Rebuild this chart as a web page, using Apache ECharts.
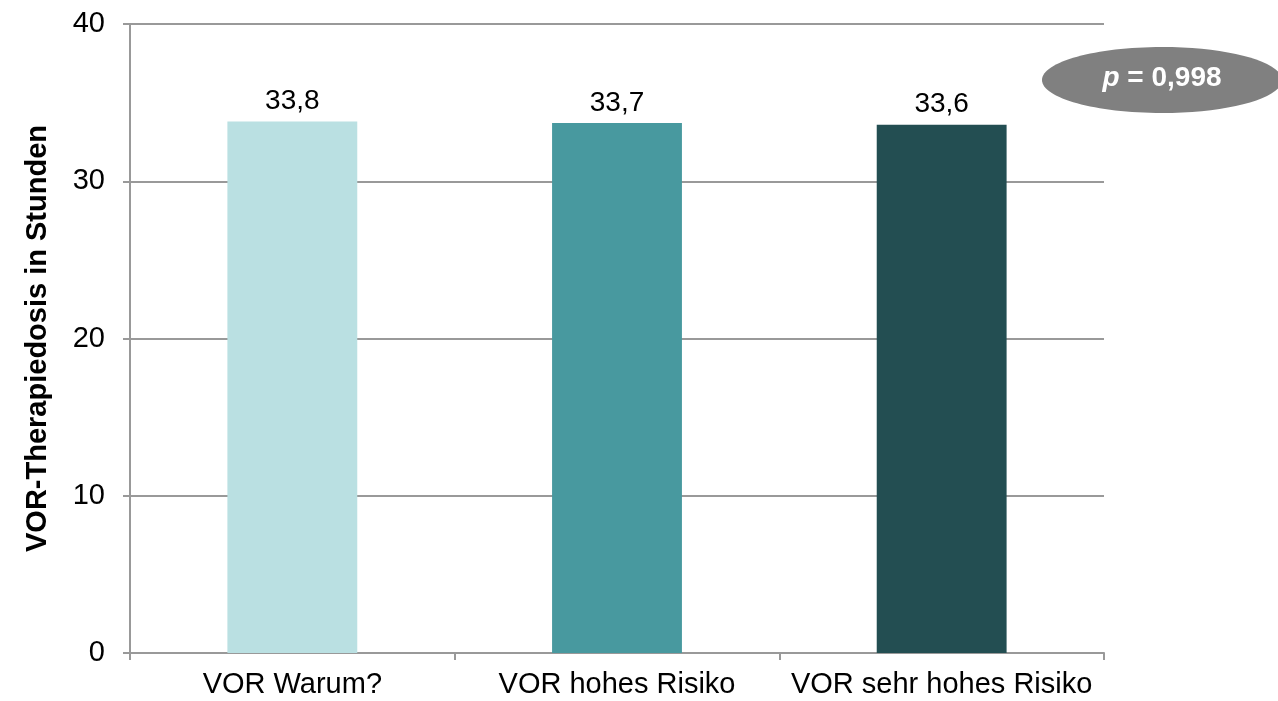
<!DOCTYPE html>
<html>
<head>
<meta charset="utf-8">
<script src="https://cdn.jsdelivr.net/npm/echarts@6/dist/echarts.min.js"></script>
<style>
  html, body { margin: 0; padding: 0; background: #fff; }
  #chart { width: 1278px; height: 701px; }
</style>
</head>
<body>
<div id="chart"></div>
<script>
// Kategorien und Werte
var categories = ['VOR Warum?', 'VOR hohes Risiko', 'VOR sehr hohes Risiko'];
var values = [33.8, 33.7, 33.6];
var barColors = ['#BAE0E2', '#48999F', '#234E52'];
var yTicks = [0, 10, 20, 30, 40];
var pLabel = '0,998';

var FONT = 'Liberation Sans, Arial, sans-serif';
var chart = echarts.init(document.getElementById('chart'));

chart.setOption({
  backgroundColor: '#fff',
  animation: false,
  grid: { left: 130, right: 174, top: 24, bottom: 48 },
  xAxis: {
    type: 'category',
    data: categories,
    axisLine: { lineStyle: { color: '#999', width: 2 } },
    axisTick: { show: true, interval: 0, length: 7, lineStyle: { color: '#999', width: 2 } },
    axisLabel: { interval: 0, hideOverlap: false, color: '#000', fontSize: 29, fontFamily: FONT, margin: 17 }
  },
  yAxis: {
    type: 'value',
    min: yTicks[0],
    max: yTicks[yTicks.length - 1],
    interval: 10,
    name: 'VOR-Therapiedosis in Stunden',
    nameLocation: 'middle',
    nameGap: 78,
    nameTextStyle: { color: '#000', fontSize: 29, fontWeight: 'bold', fontFamily: FONT },
    axisLine: { show: true, lineStyle: { color: '#999', width: 2 } },
    axisTick: { show: true, length: 7, lineStyle: { color: '#999', width: 2 } },
    axisLabel: { color: '#000', fontSize: 29, fontFamily: FONT, margin: 25 },
    splitLine: { lineStyle: { color: '#999', width: 2 } }
  },
  series: [{
    type: 'bar',
    barWidth: '40%',
    data: values.map(function (v, i) {
      return { value: v, itemStyle: { color: barColors[i] } };
    }),
    label: {
      show: true,
      position: 'top',
      distance: 6,
      color: '#000',
      fontSize: 28,
      fontFamily: FONT,
      formatter: function (p) { return String(p.value).replace('.', ','); }
    }
  }],
  graphic: [
    {
      type: 'ellipse',
      shape: { cx: 1162, cy: 80, rx: 120, ry: 33 },
      style: { fill: '#808080' }
    },
    {
      type: 'text',
      x: 1162,
      y: 78,
      style: {
        text: '{i|p}{b| = ' + pLabel + '}',
        align: 'center',
        verticalAlign: 'middle',
        rich: {
          i: { fill: '#fff', fontSize: 28, fontWeight: 'bold', fontStyle: 'italic', fontFamily: FONT },
          b: { fill: '#fff', fontSize: 28, fontWeight: 'bold', fontFamily: FONT }
        }
      }
    }
  ]
});
</script>
</body>
</html>
